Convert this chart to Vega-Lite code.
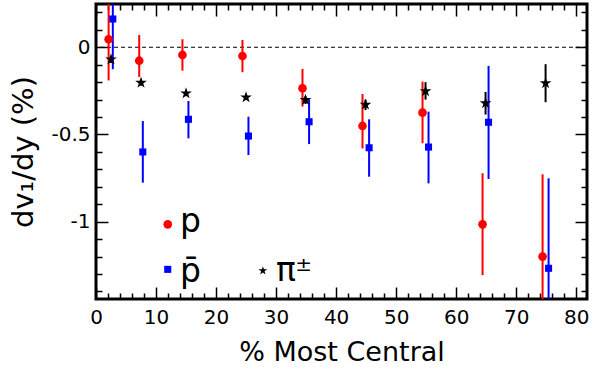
{
  "$schema": "https://vega.github.io/schema/vega-lite/v6.json",
  "width": 491,
  "height": 295,
  "autosize": "none",
  "padding": {"left": 96, "top": 4, "right": 13, "bottom": 76},
  "background": "white",
  "config": {
    "view": {"stroke": "black", "strokeWidth": 3},
    "axis": {"grid": false, "domain": false, "tickColor": "black", "tickWidth": 1.5, "labelColor": "black", "titleColor": "black", "labelFont": "DejaVu Sans", "titleFont": "DejaVu Sans", "titleFontWeight": "normal", "labelFlush": false, "labelOverlap": false}
  },
  "datasets": {
    "points": [
      {"species": "p", "x": 2.1, "y": 0.046, "lo": -0.19, "hi": 0.3},
      {"species": "p", "x": 7.2, "y": -0.077, "lo": -0.17, "hi": 0.07},
      {"species": "p", "x": 14.4, "y": -0.044, "lo": -0.134, "hi": 0.046},
      {"species": "p", "x": 24.4, "y": -0.05, "lo": -0.143, "hi": 0.042},
      {"species": "p", "x": 34.4, "y": -0.235, "lo": -0.34, "hi": -0.124},
      {"species": "p", "x": 44.4, "y": -0.451, "lo": -0.58, "hi": -0.268},
      {"species": "p", "x": 54.4, "y": -0.375, "lo": -0.55, "hi": -0.197},
      {"species": "p", "x": 64.4, "y": -1.015, "lo": -1.306, "hi": -0.722},
      {"species": "p", "x": 74.4, "y": -1.2, "lo": -1.7, "hi": -0.728},
      {"species": "pbar", "x": 2.8, "y": 0.162, "lo": -0.126, "hi": 0.45},
      {"species": "pbar", "x": 7.8, "y": -0.6, "lo": -0.776, "hi": -0.423},
      {"species": "pbar", "x": 15.4, "y": -0.413, "lo": -0.522, "hi": -0.308},
      {"species": "pbar", "x": 25.4, "y": -0.509, "lo": -0.618, "hi": -0.398},
      {"species": "pbar", "x": 35.5, "y": -0.427, "lo": -0.555, "hi": -0.298},
      {"species": "pbar", "x": 45.5, "y": -0.576, "lo": -0.742, "hi": -0.413},
      {"species": "pbar", "x": 55.4, "y": -0.572, "lo": -0.78, "hi": -0.369},
      {"species": "pbar", "x": 65.4, "y": -0.43, "lo": -0.755, "hi": -0.107},
      {"species": "pbar", "x": 75.4, "y": -1.267, "lo": -1.79, "hi": -0.751},
      {"species": "pi", "x": 2.5, "y": -0.069, "lo": -0.09, "hi": -0.05},
      {"species": "pi", "x": 7.5, "y": -0.203, "lo": -0.22, "hi": -0.19},
      {"species": "pi", "x": 15.0, "y": -0.264, "lo": -0.28, "hi": -0.25},
      {"species": "pi", "x": 25.0, "y": -0.287, "lo": -0.3, "hi": -0.27},
      {"species": "pi", "x": 34.9, "y": -0.302, "lo": -0.325, "hi": -0.28},
      {"species": "pi", "x": 44.9, "y": -0.329, "lo": -0.36, "hi": -0.3},
      {"species": "pi", "x": 54.9, "y": -0.252, "lo": -0.3, "hi": -0.2},
      {"species": "pi", "x": 64.9, "y": -0.321, "lo": -0.386, "hi": -0.256},
      {"species": "pi", "x": 74.9, "y": -0.206, "lo": -0.315, "hi": -0.097}
    ],
    "legendSymbols": [
      {"species": "p", "x": 11.95, "y": -1.015},
      {"species": "pbar", "x": 11.95, "y": -1.273},
      {"species": "pi", "x": 27.8, "y": -1.281}
    ],
    "legendText": [
      {"label": "p", "x": 14.0, "y": -1.061},
      {"label": "p̄", "x": 14.0, "y": -1.344},
      {"label": "π", "x": 30.0, "y": -1.34}
    ],
    "legendSup": [
      {"label": "±", "x": 33.2, "y": -1.283}
    ]
  },
  "layer": [
    {
      "data": {"values": [{}]},
      "mark": {"type": "rule", "strokeDash": [4, 3], "strokeWidth": 1, "color": "black"},
      "encoding": {"y": {"datum": 0, "type": "quantitative", "scale": {"domain": [-1.443, 0.248], "nice": false, "zero": false}, "axis": null}}
    },
    {
      "data": {"name": "points"},
      "transform": [{"filter": "datum.species === 'p'"}],
      "mark": {"type": "rule", "color": "#ff0000", "strokeWidth": 2, "clip": true},
      "encoding": {
        "x": {"field": "x", "type": "quantitative", "scale": {"domain": [0, 81.8], "nice": false, "zero": false},
          "axis": {"orient": "bottom", "values": [0,2,4,6,8,10,12,14,16,18,20,22,24,26,28,30,32,34,36,38,40,42,44,46,48,50,52,54,56,58,60,62,64,66,68,70,72,74,76,78,80],
            "tickSize": {"condition": {"test": "datum.value % 10 === 0", "value": -12}, "value": -6},
            "labelExpr": "datum.value % 10 === 0 ? datum.label : ''",
            "labelFontSize": 20, "labelPadding": 20, "title": "% Most Central", "titleFontSize": 27, "titlePadding": 6}},
        "y": {"field": "lo", "type": "quantitative", "scale": {"domain": [-1.443, 0.248], "nice": false, "zero": false},
          "axis": {"orient": "left", "values": [-1.4,-1.3,-1.2,-1.1,-1,-0.9,-0.8,-0.7,-0.6,-0.5,-0.4,-0.3,-0.2,-0.1,0,0.1,0.2],
            "tickSize": {"condition": {"test": "abs(datum.value*2 - round(datum.value*2)) < 0.001", "value": -12}, "value": -6},
            "labelExpr": "abs(datum.value*2 - round(datum.value*2)) < 0.001 ? '' + datum.value : ''",
            "labelFontSize": 20, "labelPadding": 18, "title": "dv₁/dy (%)", "titleFontSize": 29, "titlePadding": 12}},
        "y2": {"field": "hi"}
      }
    },
    {
      "data": {"name": "points"},
      "transform": [{"filter": "datum.species === 'pbar'"}],
      "mark": {"type": "rule", "color": "#0000ff", "strokeWidth": 2, "clip": true},
      "encoding": {
        "x": {"field": "x", "type": "quantitative", "scale": {"domain": [0, 81.8], "nice": false, "zero": false},
          "axis": {"orient": "top", "values": [0,2,4,6,8,10,12,14,16,18,20,22,24,26,28,30,32,34,36,38,40,42,44,46,48,50,52,54,56,58,60,62,64,66,68,70,72,74,76,78,80],
            "tickSize": {"condition": {"test": "datum.value % 10 === 0", "value": -12}, "value": -6},
            "labels": false, "title": null}},
        "y": {"field": "lo", "type": "quantitative", "scale": {"domain": [-1.443, 0.248], "nice": false, "zero": false},
          "axis": {"orient": "right", "values": [-1.4,-1.3,-1.2,-1.1,-1,-0.9,-0.8,-0.7,-0.6,-0.5,-0.4,-0.3,-0.2,-0.1,0,0.1,0.2],
            "tickSize": {"condition": {"test": "abs(datum.value*2 - round(datum.value*2)) < 0.001", "value": -12}, "value": -6},
            "labels": false, "title": null}},
        "y2": {"field": "hi"}
      }
    },
    {
      "data": {"name": "points"},
      "transform": [{"filter": "datum.species === 'pi'"}],
      "mark": {"type": "rule", "color": "black", "strokeWidth": 2, "clip": true},
      "encoding": {
        "x": {"field": "x", "type": "quantitative", "axis": null},
        "y": {"field": "lo", "type": "quantitative", "axis": null},
        "y2": {"field": "hi"}
      }
    },
    {
      "data": {"name": "points"},
      "transform": [{"filter": "datum.species === 'p'"}],
      "mark": {"type": "point", "shape": "circle", "filled": true, "color": "#ff0000", "size": 75, "opacity": 1, "clip": true},
      "encoding": {
        "x": {"field": "x", "type": "quantitative", "axis": null},
        "y": {"field": "y", "type": "quantitative", "axis": null}
      }
    },
    {
      "data": {"name": "points"},
      "transform": [{"filter": "datum.species === 'pbar'"}],
      "mark": {"type": "point", "shape": "square", "filled": true, "color": "#0000ff", "size": 50, "opacity": 1, "clip": true},
      "encoding": {
        "x": {"field": "x", "type": "quantitative", "axis": null},
        "y": {"field": "y", "type": "quantitative", "axis": null}
      }
    },
    {
      "data": {"name": "points"},
      "transform": [{"filter": "datum.species === 'pi'"}],
      "mark": {"type": "point", "shape": "M0,-1L0.2245,-0.309L0.951,-0.309L0.3633,0.118L0.5878,0.809L0,0.382L-0.5878,0.809L-0.3633,0.118L-0.951,-0.309L-0.2245,-0.309Z", "filled": true, "color": "black", "size": 150, "opacity": 1, "clip": true},
      "encoding": {
        "x": {"field": "x", "type": "quantitative", "axis": null},
        "y": {"field": "y", "type": "quantitative", "axis": null}
      }
    },
    {
      "data": {"name": "legendSymbols"},
      "transform": [{"filter": "datum.species === 'p'"}],
      "mark": {"type": "point", "shape": "circle", "filled": true, "color": "#ff0000", "size": 75, "opacity": 1},
      "encoding": {
        "x": {"field": "x", "type": "quantitative", "axis": null},
        "y": {"field": "y", "type": "quantitative", "axis": null}
      }
    },
    {
      "data": {"name": "legendSymbols"},
      "transform": [{"filter": "datum.species === 'pbar'"}],
      "mark": {"type": "point", "shape": "square", "filled": true, "color": "#0000ff", "size": 50, "opacity": 1},
      "encoding": {
        "x": {"field": "x", "type": "quantitative", "axis": null},
        "y": {"field": "y", "type": "quantitative", "axis": null}
      }
    },
    {
      "data": {"name": "legendSymbols"},
      "transform": [{"filter": "datum.species === 'pi'"}],
      "mark": {"type": "point", "shape": "M0,-1L0.2245,-0.309L0.951,-0.309L0.3633,0.118L0.5878,0.809L0,0.382L-0.5878,0.809L-0.3633,0.118L-0.951,-0.309L-0.2245,-0.309Z", "filled": true, "color": "black", "size": 85, "opacity": 1},
      "encoding": {
        "x": {"field": "x", "type": "quantitative", "axis": null},
        "y": {"field": "y", "type": "quantitative", "axis": null}
      }
    },
    {
      "data": {"name": "legendText"},
      "mark": {"type": "text", "font": "DejaVu Sans", "fontSize": 33, "align": "left", "baseline": "alphabetic", "color": "black"},
      "encoding": {
        "x": {"field": "x", "type": "quantitative", "axis": null},
        "y": {"field": "y", "type": "quantitative", "axis": null},
        "text": {"field": "label"}
      }
    },
    {
      "data": {"name": "legendSup"},
      "mark": {"type": "text", "font": "DejaVu Sans", "fontSize": 20, "align": "left", "baseline": "alphabetic", "color": "black"},
      "encoding": {
        "x": {"field": "x", "type": "quantitative", "axis": null},
        "y": {"field": "y", "type": "quantitative", "axis": null},
        "text": {"field": "label"}
      }
    }
  ],
  "resolve": {"axis": {"x": "independent", "y": "independent"}}
}
